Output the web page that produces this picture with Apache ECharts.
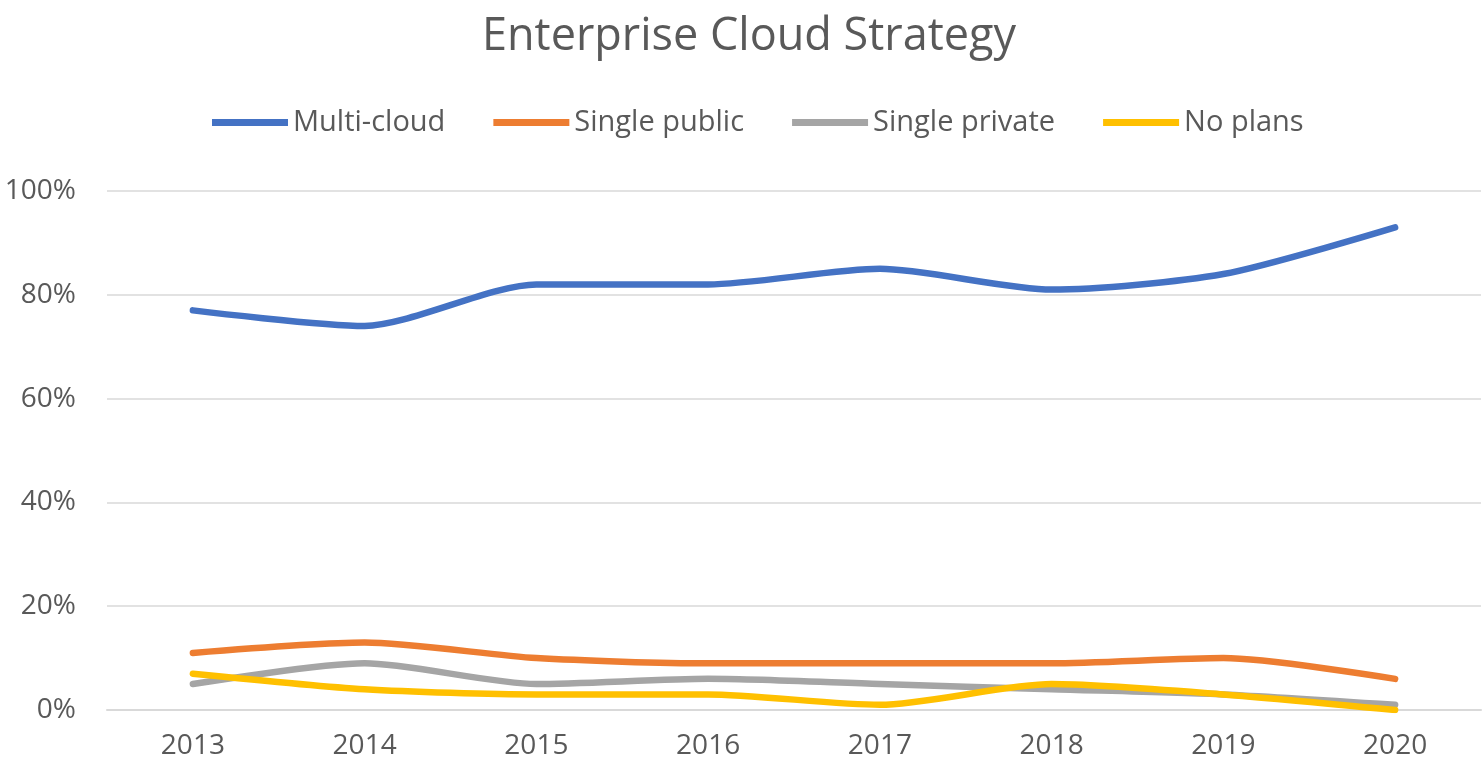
<!DOCTYPE html>
<html><head><meta charset="utf-8">
<script src="https://cdn.jsdelivr.net/npm/echarts@6/dist/echarts.min.js"></script>
<style>html,body{margin:0;padding:0;background:#fff}#c{width:1483px;height:776px}</style>
</head><body><div id="c"></div>
<script>
const categories = ['2013','2014','2015','2016','2017','2018','2019','2020'];
const multiCloud = [77, 74, 82, 82, 85, 81, 84, 93];
const singlePublic = [11, 13, 10, 9, 9, 9, 10, 6];
const singlePrivate = [5, 9, 5, 6, 5, 4, 3, 1];
const noPlans = [7, 4, 3, 3, 1, 5, 3, 0];
const seriesNames = ['Multi-cloud','Single public','Single private','No plans'];
const colors = ['#4472C4','#ED7D31','#A5A5A5','#FFC000'];
const font = 'Open Sans';
const chart = echarts.init(document.getElementById('c'));
const mk = (name, data, color, z) => ({
  name, type: 'line', data, smooth: 0.25, showSymbol: false, symbol: 'none', z,
  lineStyle: {width: 6.5, color, cap: 'round'}, itemStyle: {color}
});
chart.setOption({
  animation: false,
  title: {text: 'Enterprise Cloud Strategy', left: 477, top: 10,
    textStyle: {fontFamily: font, fontSize: 45, fontWeight: 'normal', color: '#595959'}},
  legend: {top: 103, left: 207, icon: 'rect', itemWidth: 76, itemHeight: 7, itemGap: 48,
    data: seriesNames,
    textStyle: {fontFamily: font, fontSize: 29, color: '#595959'}},
  grid: {left: 107, right: 2, top: 191, bottom: 66, containLabel: false},
  xAxis: {type: 'category', data: categories, boundaryGap: true,
    axisLine: {show: true, lineStyle: {color: '#d9d9d9', width: 2}},
    axisTick: {show: false},
    axisLabel: {fontFamily: font, fontSize: 28, color: '#595959', margin: 22}},
  yAxis: {type: 'value', min: 0, max: 100, interval: 20,
    axisLine: {show: false}, axisTick: {show: false},
    axisLabel: {formatter: '{value}%', fontFamily: font, fontSize: 28, color: '#595959', margin: 31},
    splitLine: {lineStyle: {color: '#d9d9d9', width: 1.5}}},
  series: [
    mk(seriesNames[0], multiCloud, colors[0], 4),
    mk(seriesNames[1], singlePublic, colors[1], 3),
    mk(seriesNames[2], singlePrivate, colors[2], 2),
    mk(seriesNames[3], noPlans, colors[3], 5)
  ]
});
</script></body></html>
